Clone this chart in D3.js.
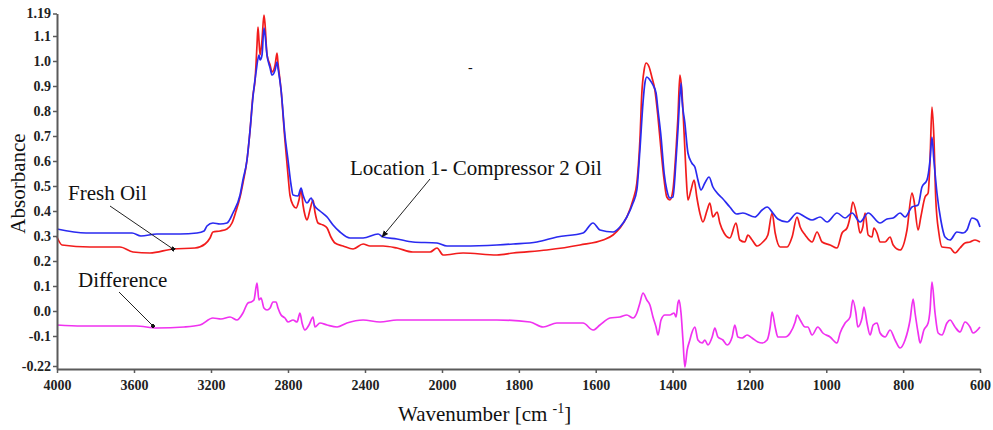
<!DOCTYPE html>
<html lang="en">
  <head>
    <meta charset="utf-8">
    <title>FTIR Spectra - Compressor Oil</title>
    <script src="https://d3js.org/d3.v7.min.js"></script>
    <style type="text/css">
      body, html {
        margin: 0;
        padding: 0;
        background: #fff;
      }
      #chart {
        background-color: #fff;
        font-family: "Liberation Serif", "Times New Roman", serif;
      }
      .axis path, .axis line {
        stroke: #5a5a5a;
      }
      .axis path { stroke-width: 2px; }
      .axis line { stroke-width: 1.5px; }
      .axis text {
        font-family: "Liberation Serif", serif;
        font-size: 14px;
        font-weight: bold;
        fill: #222;
      }
      .spectrum {
        fill: none;
        stroke-width: 1.7px;
        stroke-linejoin: round;
      }
      .note {
        font-size: 21px;
        fill: #111;
      }
      .leader {
        stroke: #222;
        stroke-width: 1px;
      }
    </style>
  </head>
  <body>
    <script type="text/javascript">

      var w = 993;
      var h = 430;

      // tick values
      var xTicks = [4000, 3600, 3200, 2800, 2400, 2000, 1800, 1600, 1400, 1200, 1000, 800, 600];
      var yTicks = [-0.22, -0.1, 0, 0.1, 0.2, 0.3, 0.4, 0.5, 0.6, 0.7, 0.8, 0.9, 1.0, 1.1, 1.19];

      // Location 1 - Compressor 2 Oil  [wavenumber, absorbance]
      var location1 = [[4000,.328],[3849,.312],[3610,.312],[3564,.300],[3481,.308],[3361,.308],[3273,.312],[3236,.320],[3221,.340],[3190,.352],[3153,.348],[3117,.352],[3086,.392],[3049,.464],[3034,.524],[3013,.604],[2997,.724],[2982,.856],[2966,.956],[2951,1.024],[2945,1.004],[2935,1.024],[2925,1.132],[2919,1.104],[2909,1.024],[2893,.972],[2883,.944],[2867,.964],[2857,.996],[2852,.972],[2836,.884],[2816,.704],[2800,.604],[2784,.504],[2774,.464],[2748,.46],[2732,.492],[2722,.464],[2701,.432],[2680,.452],[2665,.424],[2634,.40],[2597,.376],[2566,.344],[2530,.316],[2478,.292],[2410,.292],[2332,.308],[2306,.296],[2234,.288],[2151,.276],[2026,.272],[1987,.26],[1945,.26],[1857,.264],[1815,.268],[1753,.276],[1701,.296],[1633,.312],[1607,.352],[1589,.324],[1555,.316],[1537,.336],[1519,.376],[1503,.432],[1493,.484],[1485,.644],[1477,.832],[1472,.912],[1467,.936],[1459,.924],[1451,.904],[1443,.872],[1438,.804],[1430,.696],[1422,.552],[1415,.484],[1407,.452],[1399,.456],[1391,.604],[1386,.724],[1378,.912],[1376,.856],[1368,.752],[1360,.632],[1350,.592],[1342,.576],[1334,.524],[1326,.484],[1316,.512],[1305,.536],[1295,.496],[1284,.472],[1271,.452],[1251,.416],[1233,.388],[1217,.392],[1186,.376],[1167,.404],[1154,.416],[1139,.392],[1126,.368],[1102,.356],[1076,.392],[1055,.376],[1037,.364],[1016,.376],[998,.356],[972,.392],[951,.372],[933,.392],[912,.356],[891,.392],[860,.352],[842,.368],[826,.372],[808,.392],[795,.376],[777,.416],[761,.424],[751,.496],[738,.524],[730,.604],[725,.696],[720,.604],[712,.472],[702,.364],[691,.296],[678,.284],[660,.316],[644,.312],[634,.324],[621,.372],[608,.364],[600,.336]];

      // Fresh Oil
      var freshOil = [[4000,.296],[3974,.264],[3829,.256],[3673,.256],[3605,.236],[3517,.232],[3397,.248],[3283,.252],[3231,.268],[3205,.292],[3190,.316],[3153,.32],[3117,.328],[3091,.352],[3070,.40],[3049,.456],[3034,.512],[3013,.604],[2997,.724],[2982,.864],[2971,.924],[2961,1.064],[2956,1.136],[2951,1.084],[2945,1.024],[2935,1.084],[2925,1.184],[2919,1.144],[2909,1.024],[2893,.984],[2883,.956],[2867,.984],[2857,1.032],[2852,.992],[2836,.884],[2816,.684],[2800,.544],[2790,.464],[2774,.424],[2758,.412],[2743,.444],[2732,.484],[2722,.424],[2712,.384],[2701,.364],[2686,.404],[2670,.444],[2660,.396],[2644,.352],[2618,.344],[2597,.332],[2577,.296],[2556,.272],[2514,.26],[2462,.248],[2410,.268],[2374,.26],[2306,.26],[2234,.252],[2151,.236],[2062,.236],[2026,.252],[1997,.224],[1945,.232],[1857,.224],[1815,.232],[1727,.244],[1641,.264],[1581,.284],[1555,.304],[1537,.332],[1519,.376],[1503,.444],[1493,.512],[1485,.684],[1480,.872],[1474,.964],[1469,.992],[1461,.976],[1454,.936],[1446,.884],[1438,.776],[1430,.644],[1422,.524],[1415,.456],[1407,.444],[1399,.484],[1391,.644],[1386,.776],[1381,.944],[1376,.884],[1370,.712],[1365,.552],[1360,.444],[1352,.484],[1344,.524],[1337,.456],[1329,.392],[1321,.356],[1310,.404],[1303,.432],[1295,.376],[1284,.396],[1277,.352],[1266,.312],[1251,.292],[1235,.352],[1225,.284],[1212,.276],[1204,.304],[1193,.284],[1180,.26],[1165,.276],[1152,.304],[1141,.392],[1133,.312],[1120,.256],[1102,.256],[1089,.296],[1076,.376],[1068,.336],[1055,.304],[1037,.276],[1024,.316],[1011,.276],[990,.264],[972,.252],[959,.312],[946,.332],[938,.376],[931,.436],[920,.376],[912,.312],[905,.336],[899,.392],[891,.304],[881,.296],[876,.332],[868,.312],[860,.276],[847,.276],[834,.296],[826,.264],[808,.244],[790,.324],[777,.472],[772,.444],[761,.324],[754,.376],[743,.456],[735,.472],[730,.604],[725,.816],[720,.696],[715,.444],[707,.312],[699,.256],[678,.252],[665,.232],[652,.252],[639,.272],[626,.276],[613,.284],[600,.276]];

      // Difference
      var difference = [[4000,-.056],[3870,-.06],[3704,-.06],[3590,-.06],[3481,-.068],[3340,-.064],[3257,-.056],[3190,-.028],[3148,-.032],[3101,-.024],[3065,-.036],[3034,-.008],[3008,.032],[2992,.036],[2977,.044],[2961,.112],[2951,.044],[2940,.052],[2925,.012],[2909,.004],[2893,.012],[2878,.036],[2862,.036],[2852,.012],[2836,-.016],[2816,-.028],[2800,-.044],[2774,-.036],[2753,-.044],[2738,-.008],[2727,-.048],[2712,-.076],[2691,-.056],[2670,-.024],[2660,-.064],[2634,-.048],[2597,-.056],[2545,-.064],[2494,-.048],[2410,-.036],[2322,-.044],[2234,-.036],[2062,-.036],[1945,-.036],[1857,-.036],[1771,-.044],[1737,-.064],[1701,-.048],[1633,-.048],[1607,-.076],[1589,-.056],[1563,-.028],[1537,-.024],[1519,-.016],[1503,-.028],[1493,-.008],[1485,.032],[1477,.072],[1467,.044],[1459,.024],[1451,-.024],[1443,-.064],[1438,-.096],[1430,-.036],[1420,-.016],[1407,-.016],[1396,-.008],[1391,-.024],[1386,.032],[1383,.044],[1378,-.008],[1373,-.116],[1368,-.224],[1362,-.156],[1355,-.116],[1350,-.088],[1342,-.064],[1334,-.116],[1323,-.128],[1316,-.116],[1308,-.136],[1297,-.104],[1290,-.068],[1282,-.104],[1269,-.116],[1258,-.136],[1245,-.104],[1238,-.056],[1230,-.104],[1219,-.108],[1206,-.096],[1193,-.108],[1178,-.124],[1167,-.128],[1154,-.116],[1146,-.064],[1141,-.004],[1133,-.064],[1126,-.104],[1107,-.104],[1094,-.088],[1081,-.044],[1076,-.016],[1068,-.036],[1055,-.064],[1048,-.064],[1037,-.096],[1022,-.064],[1009,-.088],[990,-.104],[972,-.128],[964,-.088],[951,-.048],[938,-.024],[931,.044],[923,-.008],[918,-.064],[907,-.028],[902,.016],[894,-.048],[886,-.096],[878,-.056],[868,-.048],[860,-.088],[847,-.104],[834,-.076],[821,-.116],[808,-.148],[795,-.116],[782,-.036],[774,.048],[769,-.008],[761,-.088],[756,-.128],[746,-.076],[735,-.048],[730,.004],[725,.116],[717,-.008],[709,-.088],[699,-.096],[686,-.048],[678,-.036],[665,-.064],[652,-.084],[639,-.044],[626,-.064],[618,-.088],[600,-.064]];

      var svg = d3.select("body")
        .append("svg")
        .attr("id", "chart")
        .attr("width", w)
        .attr("height", h);

      // wavenumber axis is compressed above 2000 cm-1 (same spacing for 400 as for 200 below)
      var x = d3.scaleLinear()
        .domain([4000, 2000, 600])
        .range([57, 442, 980]);

      var y = d3.scaleLinear()
        .domain([-0.232, 1.19])
        .range([369, 13.5]);

      var line = d3.line()
        .curve(d3.curveMonotoneX)
        .x(function(d) { return x(d[0]); })
        .y(function(d) { return y(d[1]); });

      // spectra
      svg.append("path")
        .datum(difference)
        .attr("class", "spectrum")
        .attr("stroke", "#f032f0")
        .attr("d", line);

      svg.append("path")
        .datum(freshOil)
        .attr("class", "spectrum")
        .attr("stroke", "#f21c1c")
        .attr("d", line);

      svg.append("path")
        .datum(location1)
        .attr("class", "spectrum")
        .attr("stroke", "#2a2af0")
        .attr("d", line);

      // axes
      var xAxis = svg.append("g")
        .attr("class", "axis")
        .attr("transform", "translate(0," + y(-0.232) + ")")
        .call(d3.axisBottom(x)
          .tickValues(xTicks)
          .tickSize(4)
          .tickSizeOuter(0)
          .tickPadding(7)
          .tickFormat(d3.format("d")));

      var yAxis = svg.append("g")
        .attr("class", "axis")
        .attr("transform", "translate(" + x(4000) + ",0)")
        .call(d3.axisLeft(y)
          .tickValues(yTicks)
          .tickSize(4)
          .tickSizeOuter(0)
          .tickPadding(2)
          .tickFormat(function(d) {
            return (d === 1.19 || d === -0.22) ? d.toFixed(2) : d.toFixed(1);
          }));

      xAxis.attr("font-family", "Liberation Serif");
      yAxis.attr("font-family", "Liberation Serif");

      // axis titles
      svg.append("text")
        .attr("transform", "translate(25," + y(0.51) + ") rotate(-90)")
        .attr("text-anchor", "middle")
        .style("font-size", "21px")
        .style("fill", "#111")
        .text("Absorbance");

      var xt = svg.append("text")
        .attr("x", 398)
        .attr("y", 421)
        .style("font-size", "21px")
        .style("fill", "#111");
      xt.append("tspan").text("Wavenumber [cm ");
      xt.append("tspan").attr("dy", -8).style("font-size", "14px").text("-1");
      xt.append("tspan").attr("dy", 8).text("]");

      // annotations
      var defs = svg.append("defs");
      defs.append("marker")
        .attr("id", "arrow")
        .attr("viewBox", "0 0 10 10")
        .attr("refX", 9).attr("refY", 5)
        .attr("markerWidth", 7).attr("markerHeight", 7)
        .attr("orient", "auto")
        .append("path")
        .attr("d", "M0,1 L10,5 L0,9 z")
        .attr("fill", "#111");
      defs.append("marker")
        .attr("id", "square")
        .attr("viewBox", "0 0 10 10")
        .attr("refX", 5).attr("refY", 5)
        .attr("markerWidth", 4).attr("markerHeight", 4)
        .attr("orient", "auto")
        .append("rect")
        .attr("width", 10).attr("height", 10)
        .attr("fill", "#111");

      var notes = [
        {text: "Fresh Oil", tx: 68, ty: 200, x1: 110, y1: 206, x2: 173, y2: 249, mark: "square"},
        {text: "Difference", tx: 78, ty: 287, x1: 119, y1: 292, x2: 153, y2: 326, mark: "square"},
        {text: "Location 1- Compressor 2 Oil", tx: 350, ty: 175, x1: 430, y1: 179, x2: 382, y2: 237, mark: "arrow"}
      ];

      svg.selectAll(".note")
        .data(notes)
        .enter()
        .append("text")
        .attr("class", "note")
        .attr("x", function(d) { return d.tx; })
        .attr("y", function(d) { return d.ty; })
        .text(function(d) { return d.text; });

      svg.selectAll(".leader")
        .data(notes)
        .enter()
        .append("line")
        .attr("class", "leader")
        .attr("x1", function(d) { return d.x1; })
        .attr("y1", function(d) { return d.y1; })
        .attr("x2", function(d) { return d.x2; })
        .attr("y2", function(d) { return d.y2; })
        .attr("marker-end", function(d) { return "url(#" + d.mark + ")"; });

      // stray dash in the original figure
      svg.append("text")
        .attr("x", 468)
        .attr("y", 72)
        .style("font-size", "14px")
        .style("fill", "#111")
        .text("-");

    </script>
  </body>
</html>
